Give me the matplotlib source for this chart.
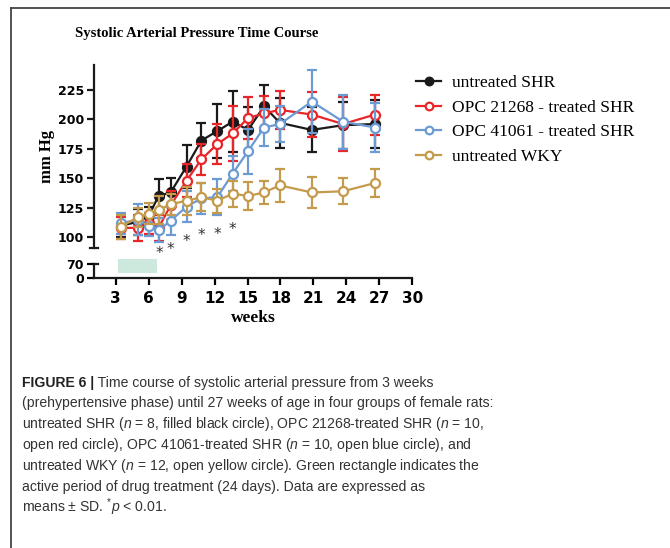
import numpy as np
import matplotlib.pyplot as plt
from matplotlib.lines import Line2D
from matplotlib.patches import Rectangle

plt.rcParams['mathtext.fontset'] = 'custom'
plt.rcParams['mathtext.rm'] = 'Liberation Sans'
plt.rcParams['mathtext.it'] = 'Liberation Sans:italic'

#### Data (weeks of age, mean and SD in mm Hg)
weeks = [3.5, 5.0, 6.0, 6.9, 8.0, 9.45, 10.8, 12.25, 13.65, 15.05, 16.5, 17.95, 20.85, 23.7, 26.6]

shr_mean = [110, 113, 118, 135, 138, 160, 182, 190, 198, 191, 211, 197, 191, 195, 196]
shr_sd = [10, 11, 8, 14, 12, 18, 15, 23, 26, 19, 18, 21, 19, 20, 20]

opc21268_mean = [108, 108, 112, 108, 127, 148, 166, 179, 188, 201, 205, 208, 204, 196, 204]
opc21268_sd = [9, 11, 9, 11, 12, 14, 13, 17, 23, 18, 15, 16, 19, 23, 17]

opc41061_mean = [112, 115, 110, 106, 114, 126, 133, 134, 154, 173, 193, 196, 215, 198, 193]
opc41061_sd = [9, 13, 9, 10, 12, 13, 13, 15, 15, 19, 16, 15, 27, 23, 21]

wky_mean = [109, 117, 120, 123, 128, 131, 134, 131, 137, 135, 138, 144, 138, 139, 146]
wky_sd = [10, 8, 9, 12, 9, 12, 12, 10, 11, 12, 10, 14, 13, 11, 12]

# significance marks (week, y position in mm Hg)
sig_weeks = [6.97, 8.0, 9.46, 10.8, 12.25, 13.6]
sig_y = [86.5, 89.5, 96.5, 101.5, 102.5, 106.5]

# drug treatment period (weeks)
treat_start, treat_end = 3.25, 6.8

xticks = [3, 6, 9, 12, 15, 18, 21, 24, 27, 30]
yticks = [100, 125, 150, 175, 200, 225]

series = [
    ('untreated SHR', shr_mean, shr_sd, '#1a1a1a', True),
    ('OPC 21268 - treated SHR', opc21268_mean, opc21268_sd, '#e8262a', False),
    ('OPC 41061 - treated SHR', opc41061_mean, opc41061_sd, '#6b9bd2', False),
    ('untreated WKY', wky_mean, wky_sd, '#c49a4c', False),
]

W, H = 670, 548
fig = plt.figure(figsize=(6.7, 5.48), dpi=100, facecolor='white')

def fx(px):
    return px / W

def fy(py):
    return 1 - py / H

left, right = 93.7, 412.3
ax = fig.add_axes([fx(left), fy(248.3), fx(right - left), fy(65) - fy(248.3)])
axl = fig.add_axes([fx(left), fy(278.3), fx(right - left), fy(264) - fy(278.3)])

for a in (ax, axl):
    a.set_xlim(1, 30)
    a.spines['right'].set_visible(False)
    a.spines['top'].set_visible(False)
    a.patch.set_alpha(0)
    for s in a.spines.values():
        s.set_linewidth(1.6)
        s.set_color('#1a1a1a')

ax.set_ylim(90.7, 246)
ax.spines['bottom'].set_visible(False)
ax.set_xticks([])
ax.set_yticks(yticks)
ax.tick_params(axis='y', length=5, width=1.6, pad=2, labelsize=9, color='#1a1a1a')
for lab in ax.get_yticklabels():
    lab.set_fontweight('bold')
# break mark at the bottom of the upper axis
ax.add_line(Line2D([-0.013, 0.013], [0, 0], transform=ax.transAxes, color='#1a1a1a',
                   lw=1.6, clip_on=False))

axl.set_ylim(0, 70)
axl.set_yticks([0, 70])
axl.set_xticks(xticks)
axl.tick_params(axis='y', length=5, width=1.6, pad=2, labelsize=9)
axl.tick_params(axis='x', length=5, width=1.6, pad=4, labelsize=11)
for lab in axl.get_yticklabels() + axl.get_xticklabels():
    lab.set_fontweight('bold')
axl.add_line(Line2D([0, 0.013], [1, 1], transform=axl.transAxes, color='#1a1a1a',
                    lw=1.6, clip_on=False))

# green rectangle for the treatment period
axl.add_patch(Rectangle((treat_start, 27), treat_end - treat_start, 66,
                        facecolor='#cde8dc', edgecolor='none', clip_on=False))

handles = []
for i, (name, m, sd, col, filled) in enumerate(series):
    eb = ax.errorbar(weeks, m, yerr=sd, color=col, lw=1.6, elinewidth=1.6,
                     capsize=3.8, capthick=1.6, marker='o', markersize=6.5,
                     markeredgewidth=1.6,
                     markerfacecolor=col if filled else 'white',
                     markeredgecolor=col, zorder=3 + i, clip_on=False)
    handles.append(Line2D([], [], color=col, lw=1.6, marker='o', markersize=5.5,
                          markeredgewidth=1.6,
                          markerfacecolor=col if filled else 'white'))

for xw, yv in zip(sig_weeks, sig_y):
    ax.text(xw, yv, '*', ha='center', va='center', fontsize=11, color='#333333',
            clip_on=False)

ax.set_ylabel('mm Hg', fontsize=12, fontweight='bold', family='Liberation Serif')
ax.yaxis.set_label_coords(-0.12, 0.5)
fig.text(fx(253), fy(318), 'weeks', fontsize=12.5, fontweight='bold',
         family='Liberation Serif', ha='center', va='center')
fig.text(fx(197), fy(33), 'Systolic Arterial Pressure Time Course', fontsize=10.5,
         fontweight='bold', family='Liberation Serif', ha='center', va='center')

fig.legend(handles, [s[0] for s in series], loc='upper left',
           bbox_to_anchor=(fx(416), fy(75)), frameon=False, borderpad=0,
           borderaxespad=0, handlelength=1.45, handletextpad=0.6, labelspacing=0.48,
           prop={'family': 'Liberation Serif', 'size': 12.5})

# page frame
fig.add_artist(Line2D([fx(11), fx(11)], [0, fy(8.3)], color='#444444', lw=1.3))
fig.add_artist(Line2D([fx(11), 1], [fy(8.3), fy(8.3)], color='#444444', lw=1.3))

#### Caption
cap_font = 'Liberation Sans'
cap_size = 10.1
x0 = fx(21.7)
base0 = 386.7
step = 20.8
t1 = fig.text(x0, fy(base0), 'FIGURE 6 |', fontsize=cap_size, fontweight='bold',
              family=cap_font, va='baseline', color='#222222')
ax.annotate(' Time course of systolic arterial pressure from 3 weeks', xy=(1, 0),
            xycoords=t1, va='bottom', ha='left', fontsize=cap_size, family=cap_font,
            color='#333333', annotation_clip=False)
lines = [
    '(prehypertensive phase) until 27 weeks of age in four groups of female rats:',
    'untreated SHR ($n$ = 8, filled black circle), OPC 21268-treated SHR ($n$ = 10,',
    'open red circle), OPC 41061-treated SHR ($n$ = 10, open blue circle), and',
    'untreated WKY ($n$ = 12, open yellow circle). Green rectangle indicates the',
    'active period of drug treatment (24 days). Data are expressed as',
    'means \u00b1 SD. $^{*}p$ < 0.01.',
]
for k, s in enumerate(lines):
    fig.text(x0, fy(base0 + (k + 1) * step), s, fontsize=cap_size, family=cap_font,
             va='baseline', color='#333333')

plt.savefig('out.png', dpi=100, facecolor='white')
